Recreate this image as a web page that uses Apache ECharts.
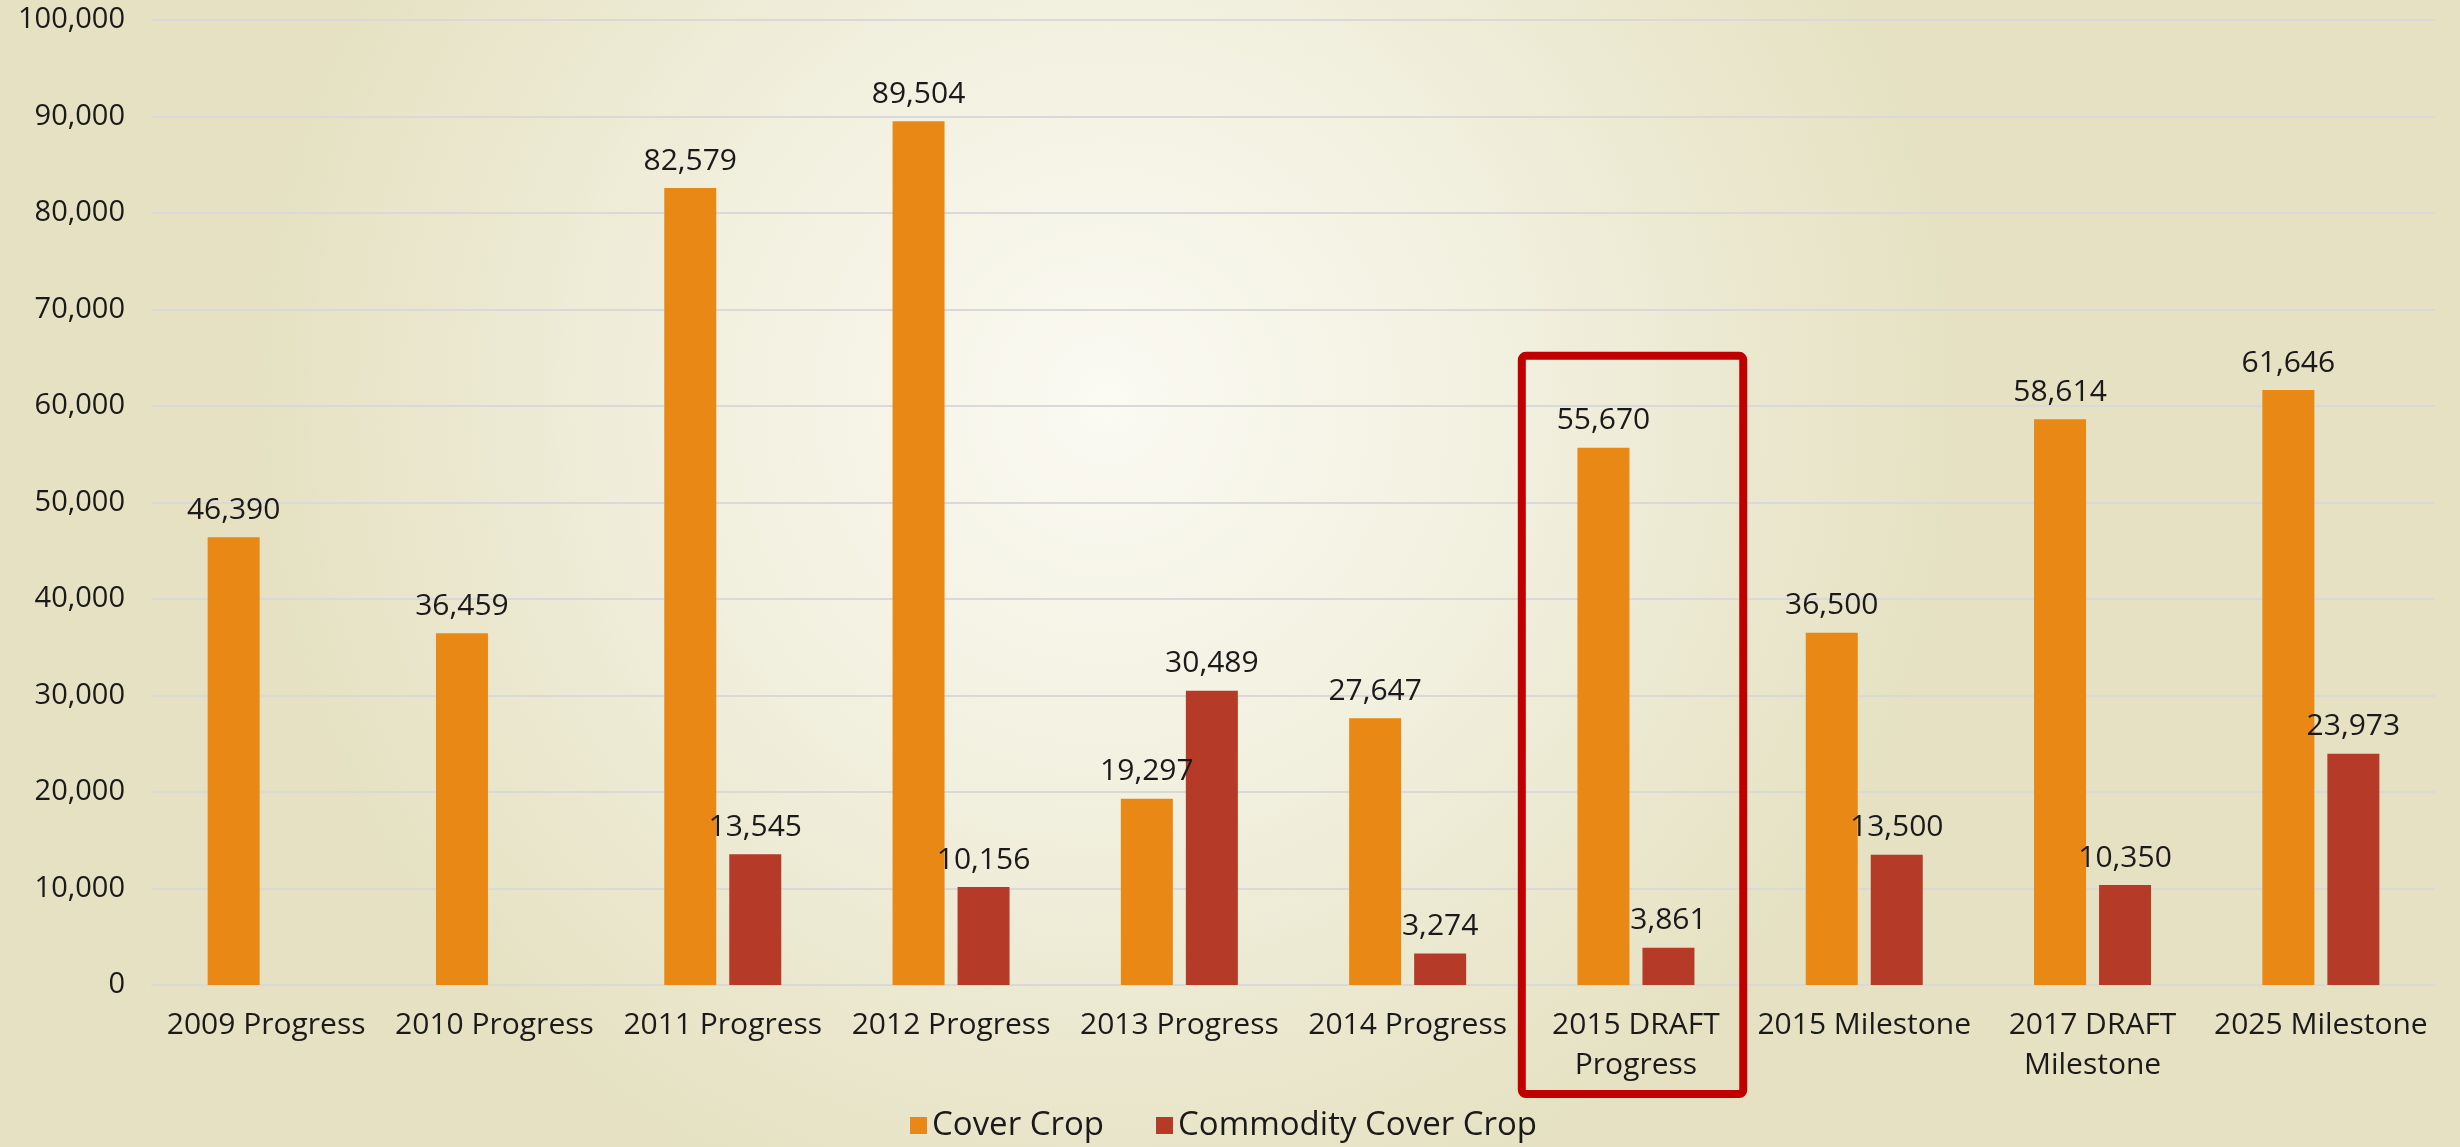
<!DOCTYPE html>
<html>
<head>
<meta charset="utf-8">
<script src="https://cdn.jsdelivr.net/npm/echarts@6/dist/echarts.min.js"></script>
<style>
	html, body { margin: 0; padding: 0; }
	#chart { width: 2460px; height: 1147px; }
</style>
</head>
<body>
<div id="chart"></div>
<script>
	// categories and values
	var categories = ['2009 Progress', '2010 Progress', '2011 Progress', '2012 Progress', '2013 Progress',
		'2014 Progress', '2015 DRAFT\nProgress', '2015 Milestone', '2017 DRAFT\nMilestone', '2025 Milestone'];
	var coverCrop = [46390, 36459, 82579, 89504, 19297, 27647, 55670, 36500, 58614, 61646];
	var commodityCoverCrop = [null, null, 13545, 10156, 30489, 3274, 3861, 13500, 10350, 23973];
	var yTicks = { min: 0, max: 100000, interval: 10000 };
	var highlightIndex = 6;

	var font = '"Open Sans", sans-serif';
	var fmt = function (v) { return Number(v).toLocaleString('en-US'); };

	var myChart = echarts.init(document.getElementById('chart'));
	myChart.setOption({
		backgroundColor: {
			type: 'radial', x: 0.45, y: 0.35, r: 0.75,
			colorStops: [
				{ offset: 0, color: '#fbfaf3' },
				{ offset: 0.5, color: '#f1efdd' },
				{ offset: 1, color: '#e5e1c2' }
			]
		},
		textStyle: { fontFamily: font },
		grid: { left: 152, right: 25, top: 20, bottom: 162 },
		legend: {
			bottom: 0,
			left: 905,
			itemWidth: 17,
			itemHeight: 17,
			itemGap: 52,
			icon: 'rect',
			textStyle: { fontSize: 33, color: '#1a1a1a', fontFamily: font, padding: [0, 0, 0, 0] }
		},
		xAxis: {
			type: 'category',
			data: categories,
			axisTick: { show: false },
			axisLine: { lineStyle: { color: '#d9d9d9', width: 2 } },
			axisLabel: { fontSize: 30, color: '#1a1a1a', margin: 20, lineHeight: 40, interval: 0 }
		},
		yAxis: {
			type: 'value',
			min: yTicks.min,
			max: yTicks.max,
			interval: yTicks.interval,
			axisLine: { show: false },
			axisTick: { show: false },
			splitLine: { lineStyle: { color: '#d9d9d9', width: 2 } },
			axisLabel: { fontSize: 29, color: '#1a1a1a', margin: 27, formatter: fmt }
		},
		series: [{
			name: 'Cover Crop',
			type: 'bar',
			data: coverCrop,
			barWidth: 52,
			barGap: '25%',
			itemStyle: { color: '#e98814' },
			label: { show: true, position: 'top', distance: 12, fontSize: 30, color: '#1a1a1a',
				formatter: function (p) { return fmt(p.value); } }
		}, {
			name: 'Commodity Cover Crop',
			type: 'bar',
			data: commodityCoverCrop,
			barWidth: 52,
			itemStyle: { color: '#b53b28' },
			label: { show: true, position: 'top', distance: 12, fontSize: 30, color: '#1a1a1a',
				formatter: function (p) { return fmt(p.value); } }
		}]
	});

	// red highlight box around one category, placed through the axes
	var cx = myChart.convertToPixel({ xAxisIndex: 0 }, highlightIndex);
	var band = myChart.convertToPixel({ xAxisIndex: 0 }, 1) - myChart.convertToPixel({ xAxisIndex: 0 }, 0);
	var yTop = myChart.convertToPixel({ yAxisIndex: 0 }, 65200);
	var yZero = myChart.convertToPixel({ yAxisIndex: 0 }, 0);
	myChart.setOption({
		graphic: [{
			type: 'rect',
			shape: { x: cx - band * 0.5, y: yTop, width: band * 0.97, height: yZero + 109 - yTop, r: 4 },
			style: { fill: 'none', stroke: '#c00000', lineWidth: 8 },
			z: 10
		}]
	});
</script>
</body>
</html>
